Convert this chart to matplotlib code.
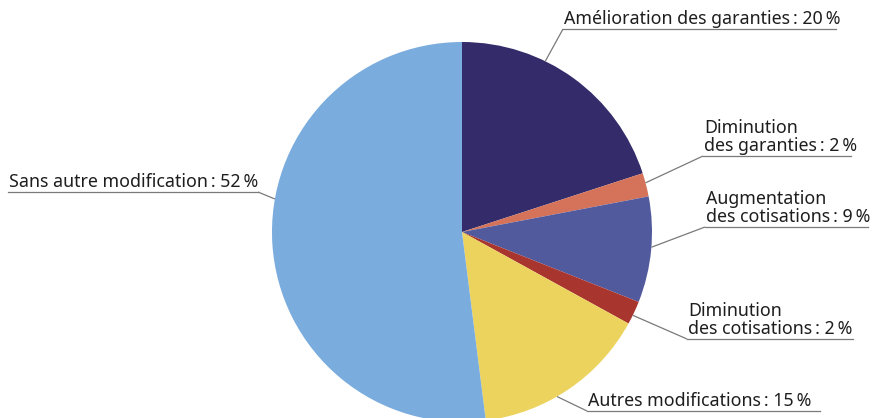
import numpy as np
import matplotlib.pyplot as plt

# parts des modifications (%)
labels = [
    "Amélioration des garanties\u2009: 20\u2009%",
    "Diminution\ndes garanties\u2009: 2\u2009%",
    "Augmentation\ndes cotisations\u2009: 9\u2009%",
    "Diminution\ndes cotisations\u2009: 2\u2009%",
    "Autres modifications\u2009: 15\u2009%",
    "Sans autre modification\u2009: 52\u2009%",
]
values = [20, 2, 9, 2, 15, 52]
colors = ["#342c6a", "#d4735a", "#525a9e", "#a9352f", "#ecd35e", "#7aacdd"]

# mise en page (pixels, y vers le haut)
W, H = 872, 418
cx, cy, r = 462, H - 232, 190
anchor_ang = [64, 15, -4.6, -26, -60, 170]          # point de depart du trait sur le bord
line_y = [H - 29, H - 156, H - 227, H - 339, H - 411, H - 192]  # niveau du soulignement
line_x0 = [563, 703, 705, 687, 587, 8]
line_x1 = [836, 851, 868, 853, 820, 258]

plt.rcParams['font.family'] = ['Noto Sans', 'DejaVu Sans']

fig = plt.figure(figsize=(W / 100, H / 100), dpi=100)
ax = fig.add_axes([0, 0, 1, 1])
ax.set_xlim(0, W)
ax.set_ylim(0, H)
ax.set_aspect('equal')
ax.axis('off')

ax.pie(values, colors=colors, center=(cx, cy), radius=r, startangle=90,
       counterclock=False, wedgeprops=dict(linewidth=0))
ax.set_xlim(0, W)
ax.set_ylim(0, H)

for i, lab in enumerate(labels):
    a = np.deg2rad(anchor_ang[i])
    px, py = cx + r * np.cos(a), cy + r * np.sin(a)
    y = line_y[i]
    x0, x1 = line_x0[i], line_x1[i]
    # trait de rappel vers le bout du soulignement le plus proche
    ex = x0 if px < x0 else x1
    ax.plot([px, ex], [py, y], color="#7a7a7a", lw=0.9, solid_capstyle='butt')
    ax.plot([x0, x1], [y, y], color="#7a7a7a", lw=0.9)
    ax.text(x0 + 1, y + 1, lab, ha='left', va='bottom', fontsize=12.8,
            color="#1e1e1e", linespacing=1.0)

fig.savefig("out.png", dpi=100)
